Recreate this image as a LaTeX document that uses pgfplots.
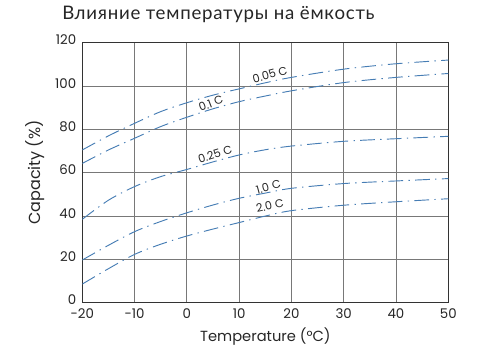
\documentclass[border=0pt]{standalone}
\usepackage{pgfplots}
\pgfplotsset{compat=1.18}
\usepackage{fontspec}
\setmainfont{Poppins}
\newfontfamily\titlefont[LetterSpace=4]{Lato}
\definecolor{curvecol}{RGB}{70,125,180}
\definecolor{gridc}{RGB}{120,120,120}
\begin{document}
\begin{tikzpicture}
\useasboundingbox (0,0) rectangle (369.75pt,264.75pt);
\begin{axis}[
  at={(61.7pt,37.7pt)}, anchor=south west,
  scale only axis, width=274.5pt, height=195pt,
  xmin=-20, xmax=50, ymin=0, ymax=120,
  xtick={-20,-10,...,50}, ytick={0,20,...,120},
  xticklabels={-20,-10,0,10,20,30,40,50},
  grid=major,
  major grid style={gridc, line width=0.6pt},
  axis line style={black!80, line width=0.9pt},
  tick style={draw=none},
  /pgf/number format/assume math mode=true,
  ticklabel style={font=\fontsize{10}{12}\selectfont, text=black!85},
  yticklabel style={yshift=2pt, xshift=-1pt},
  xticklabel style={yshift=-1pt},
  cv/.style={draw=curvecol, line width=0.7pt, smooth, dash pattern=on 11pt off 4pt on 1pt off 4pt},
]
% 0.05 C
\addplot[cv] coordinates {(-20,70.5) (-15,77) (-10,82.8) (-5,88.2) (0,92.3) (5,95.8) (10,98.7) (15,101.5) (20,104) (30,107.8) (40,110.3) (50,112)};
% 0.1 C
\addplot[cv] coordinates {(-20,64.3) (-15,70.5) (-10,75.9) (-5,81.3) (0,85.6) (5,89.5) (10,92.8) (15,95.4) (20,97.8) (30,101.6) (40,104) (50,105.8)};
% 0.25 C
\addplot[cv] coordinates {(-20,38.5) (-15,47.3) (-10,53.6) (-5,58.2) (0,61.5) (5,65) (10,68.2) (15,70.6) (20,72.3) (30,74.5) (40,75.7) (50,76.8)};
% 1.0 C
\addplot[cv] coordinates {(-20,19.7) (-15,26.5) (-10,32.8) (-5,37.5) (0,41.5) (5,45.1) (10,48.2) (15,50.6) (20,52.8) (30,55) (40,56.2) (50,57.3)};
% 2.0 C
\addplot[cv] coordinates {(-20,8.6) (-15,15.7) (-10,22.3) (-5,27) (0,30.8) (5,34) (10,37) (15,40) (20,42.5) (30,45) (40,46.6) (50,48)};
\begin{scope}[every node/.style={font=\fontsize{8.5}{10}\selectfont, text=black!85, inner sep=0pt}]
\node[rotate=15] at (axis cs:15.9,105.3) {0.05 C};
\node[rotate=21] at (axis cs:4.6,92) {0.1 C};
\node[rotate=17] at (axis cs:5.4,68.4) {0.25 C};
\node[rotate=15] at (axis cs:15.6,53.5) {1.0 C};
\node[rotate=12] at (axis cs:15.9,44.8) {2.0 C};
\end{scope}
\end{axis}
\node[anchor=base west, inner sep=0pt, font=\titlefont\fontsize{14}{16}\selectfont, text=black!85] at (46.5pt,249.75pt) {Влияние температуры на ёмкость};
\node[anchor=base, inner sep=0pt, font=\fontsize{11}{13}\selectfont, text=black!85] at (199pt,8.5pt) {Temperature (°C)};
\node[rotate=90, anchor=center, inner sep=0pt, font=\fontsize{12}{14}\selectfont, text=black!85] at (26.5pt,135.4pt) {Capacity (\%)};
\end{tikzpicture}
\end{document}
